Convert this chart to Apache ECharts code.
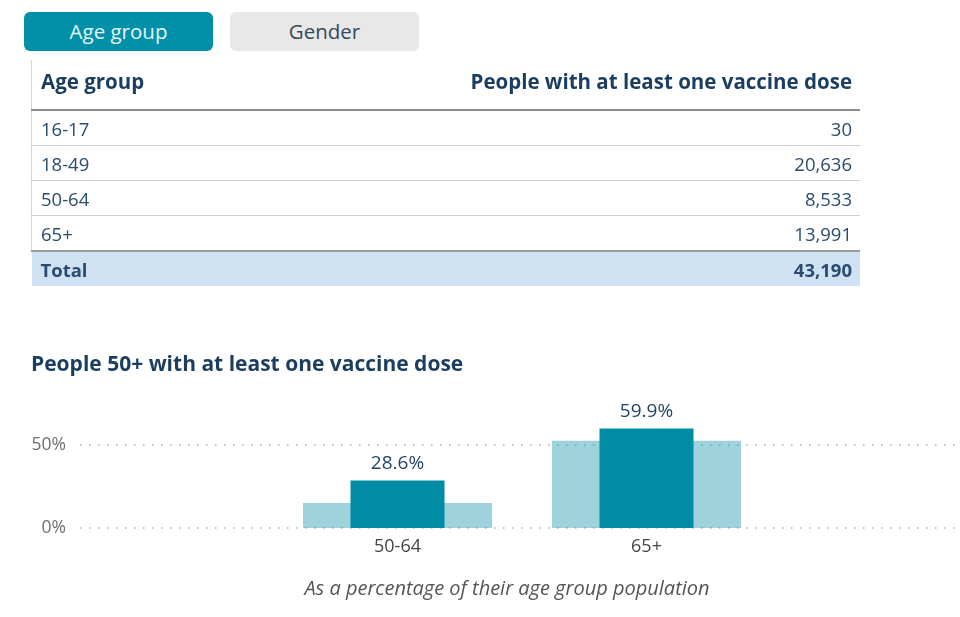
<!DOCTYPE html>
<html>
<head>
    <meta charset="utf-8">
    <title>People with at least one vaccine dose</title>
    <script src="https://cdn.jsdelivr.net/npm/echarts@6/dist/echarts.min.js"></script>
    <style type="text/css">
        html,
        body {
            margin: 0;
            padding: 0;
            width: 960px;
            height: 617px;
            overflow: hidden;
            background: #fff;
            font-family: "Open Sans", sans-serif;
        }

        #chart {
            position: absolute;
            left: 0;
            top: 0;
            width: 960px;
            height: 617px;
        }

        .tab {
            position: absolute;
            top: 12px;
            height: 39px;
            line-height: 39px;
            width: 189px;
            border-radius: 6px;
            text-align: center;
            font-size: 20.5px;
        }

        #tabAge {
            left: 24px;
            background: #0190a8;
            color: #e6f6f8;
        }

        #tabGender {
            left: 230px;
            background: #e8e8e8;
            color: #34495e;
        }

        #tbl {
            position: absolute;
            left: 31px;
            top: 60px;
            width: 829px;
            border-collapse: collapse;
            color: #2b4c6f;
            font-size: 18.5px;
        }

        #tbl th {
            height: 41px;
            font-size: 20.5px;
            font-weight: bold;
            color: #1b3d5f;
            border-bottom: 2px solid #8c8c8c;
            vertical-align: middle;
            padding: 0 8px 8px 9px;
        }

        #tbl td {
            height: 34px;
            padding: 0 8px 0 9px;
            border-bottom: 1px solid #cfcfcf;
        }

        #tbl tr td:first-child,
        #tbl tr th:first-child {
            border-left: 1px solid #d6d6d6;
            text-align: left;
        }

        #tbl tr td:last-child,
        #tbl tr th:last-child {
            text-align: right;
        }

        #tbl tr.last td {
            border-bottom: 2px solid #9a9a9a;
        }

        #tbl tr.total td {
            background: #cfe2f3;
            font-weight: bold;
            border-bottom: none;
            border-left: none;
            height: 34px;
        }
    </style>
</head>

<body>
    <div id="chart"></div>
    <div class="tab" id="tabAge">Age group</div>
    <div class="tab" id="tabGender">Gender</div>
    <table id="tbl"></table>

    <script type="text/javascript">
        // table data
        var tableHeaders = ['Age group', 'People with at least one vaccine dose'];
        var tableGroups = ['16-17', '18-49', '50-64', '65+'];
        var tableDoses = [30, 20636, 8533, 13991];
        var tableTotal = 43190;

        // chart data
        var chartCategories = ['50-64', '65+'];
        var chartPercent = [28.6, 59.9];
        var chartBackground = [15, 52.5];
        var yTicks = [0, 50];

        var html = '<tr><th>' + tableHeaders[0] + '</th><th>' + tableHeaders[1] + '</th></tr>';
        for (var i = 0; i < tableGroups.length; i++) {
            var cls = i == tableGroups.length - 1 ? ' class="last"' : '';
            html += '<tr' + cls + '><td>' + tableGroups[i] + '</td><td>' + tableDoses[i].toLocaleString('en-US') + '</td></tr>';
        }
        html += '<tr class="total"><td>Total</td><td>' + tableTotal.toLocaleString('en-US') + '</td></tr>';
        document.getElementById('tbl').innerHTML = html;

        var myChart = echarts.init(document.getElementById('chart'));
        var font = '"Open Sans", sans-serif';

        var option = {
            animation: false,
            textStyle: { fontFamily: font },
            title: [{
                text: 'People 50+ with at least one vaccine dose',
                left: 26,
                top: 350,
                textStyle: { fontSize: 21, fontWeight: 'bold', color: '#1b3d5f', fontFamily: font }
            }, {
                text: 'As a percentage of their age group population',
                left: 502,
                textAlign: 'center',
                top: 574,
                textStyle: { fontSize: 20, fontStyle: 'italic', fontWeight: 'normal', color: '#555', fontFamily: font }
            }],
            grid: [
                { left: 80, right: 5, top: 445, height: 83 },
                { left: 273, right: 189, top: 445, height: 83 }
            ],
            xAxis: [
                { gridIndex: 0, type: 'category', data: chartCategories, show: false },
                {
                    gridIndex: 1, type: 'category', data: chartCategories,
                    axisLine: { show: false },
                    axisTick: { show: false },
                    axisLabel: { color: '#444', fontSize: 18, margin: 10 }
                },
                { gridIndex: 1, type: 'category', data: chartCategories, show: false }
            ],
            yAxis: [
                {
                    gridIndex: 0, type: 'value',
                    min: yTicks[0], max: yTicks[yTicks.length - 1], interval: yTicks[1] - yTicks[0],
                    axisLine: { show: false },
                    axisTick: { show: false },
                    axisLabel: { formatter: '{value}%', color: '#707070', fontSize: 17.5, margin: 14 },
                    splitLine: { show: true, lineStyle: { color: '#b0b0b0', width: 1.5, type: [1.5, 7.5] } }
                },
                {
                    gridIndex: 1, type: 'value',
                    min: yTicks[0], max: yTicks[yTicks.length - 1],
                    show: false
                }
            ],
            series: [
                {
                    type: 'bar',
                    xAxisIndex: 2,
                    yAxisIndex: 1,
                    data: chartBackground,
                    barWidth: 189,
                    clip: false,
                    silent: true,
                    itemStyle: { color: 'rgba(0, 140, 165, 0.38)' }
                },
                {
                    type: 'bar',
                    xAxisIndex: 1,
                    yAxisIndex: 1,
                    data: chartPercent,
                    barWidth: 94,
                    clip: false,
                    z: 3,
                    itemStyle: { color: '#008ca5' },
                    label: {
                        show: true,
                        position: 'top',
                        distance: 7,
                        formatter: '{c}%',
                        color: '#1f4468',
                        fontSize: 19
                    }
                }
            ]
        };
        myChart.setOption(option);
    </script>
</body>

</html>
